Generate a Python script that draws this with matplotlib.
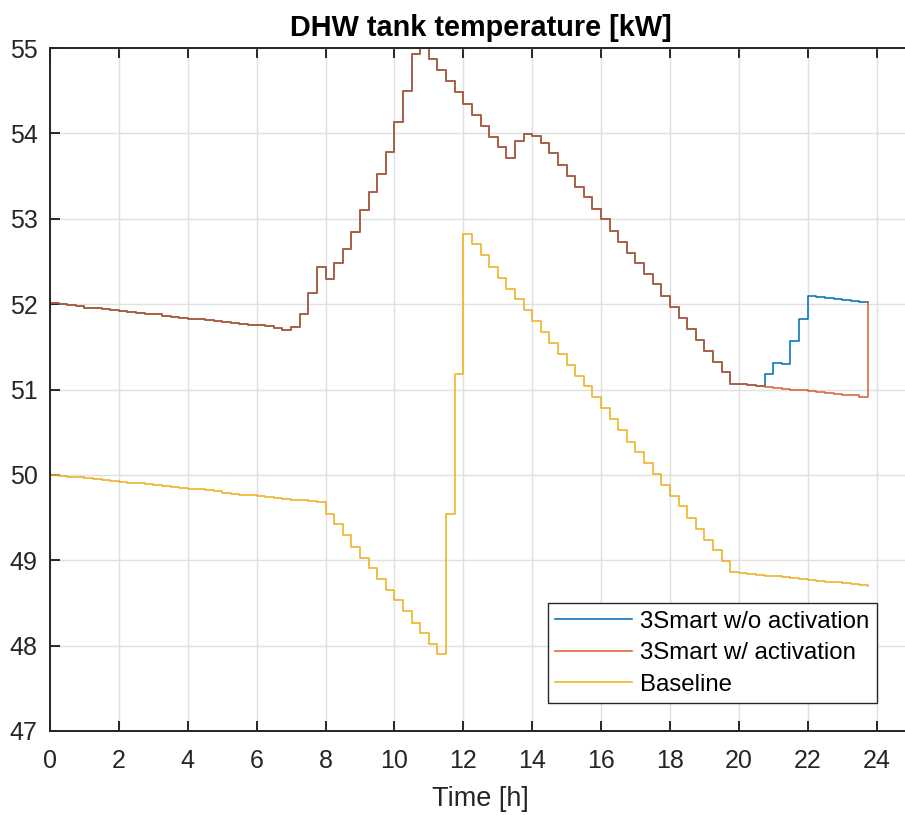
import matplotlib.pyplot as plt
import numpy as np

plt.rcParams['font.family'] = ['Liberation Sans', 'DejaVu Sans']

# time axis, 15 min steps
time_h = np.arange(0, 24, 0.25)

# 3Smart w/ activation
smart_act = [
    52.01, 52.00, 51.99, 51.98, 51.96, 51.95, 51.94, 51.93, 51.92, 51.91,
    51.90, 51.89, 51.88, 51.86, 51.85, 51.84, 51.83, 51.82, 51.81, 51.80,
    51.79, 51.78, 51.77, 51.76, 51.75, 51.74, 51.72, 51.70,
    51.73, 51.89, 52.13, 52.43, 52.29, 52.48, 52.64, 52.85,
    53.10, 53.31, 53.52, 53.78, 54.13, 54.50, 54.93, 55.00,
    54.87, 54.74, 54.61, 54.49, 54.34, 54.22, 54.09, 53.96,
    53.84, 53.71, 53.91, 53.99, 53.97, 53.89, 53.77, 53.63,
    53.50, 53.37, 53.25, 53.12, 53.00, 52.86, 52.73, 52.60,
    52.48, 52.35, 52.23, 52.09, 51.97, 51.84, 51.71, 51.58,
    51.45, 51.32, 51.20, 51.07, 51.06, 51.05, 51.04, 51.03,
    51.02, 51.01, 51.00, 50.99, 50.98, 50.97, 50.96, 50.95,
    50.94, 50.93, 50.91, 52.02,
]

# 3Smart w/o activation (same as above until 20:45)
smart_noact = smart_act[:83] + [
    51.18, 51.31, 51.30, 51.57, 51.83, 52.09, 52.08, 52.07,
    52.06, 52.05, 52.04, 52.03, 52.02,
]

baseline = [
    50.00, 49.99, 49.98, 49.97, 49.96, 49.95, 49.94, 49.93, 49.92, 49.91,
    49.90, 49.89, 49.88, 49.87, 49.86, 49.85, 49.84, 49.83, 49.82, 49.81,
    49.79, 49.78, 49.77, 49.76, 49.75, 49.74, 49.73, 49.72, 49.71, 49.70,
    49.69, 49.68,
    49.54, 49.42, 49.29, 49.16, 49.03, 48.91, 48.78, 48.65,
    48.53, 48.40, 48.27, 48.15, 48.02, 47.90, 49.54, 51.18,
    52.82, 52.70, 52.57, 52.44, 52.31, 52.18, 52.06, 51.93,
    51.80, 51.67, 51.54, 51.41, 51.29, 51.16, 51.04, 50.91,
    50.78, 50.65, 50.52, 50.39, 50.27, 50.14, 50.01, 49.88,
    49.75, 49.63, 49.50, 49.37, 49.24, 49.12, 48.99, 48.86,
    48.85, 48.84, 48.83, 48.82, 48.81, 48.80, 48.79, 48.78,
    48.77, 48.76, 48.75, 48.74, 48.73, 48.72, 48.71, 48.70,
]

fig = plt.figure(figsize=(9.05, 8.15), dpi=100)
ax = fig.add_axes([50/905, 84/815, 861/905, 683/815])

ax.step(time_h, smart_noact, where='post', color='#0072BD', lw=1.15, label='3Smart w/o activation')
ax.step(time_h, smart_act, where='post', color='#D95319', lw=1.15, alpha=0.9, label='3Smart w/ activation')
ax.step(time_h, baseline, where='post', color='#EDB120', lw=1.15, label='Baseline')

ax.set_xlim(0, 25)
ax.set_ylim(47, 55)
ax.set_xticks(np.arange(0, 25, 2))
ax.set_yticks(np.arange(47, 56, 1))
ax.grid(True, color='#e0e0e0', lw=1.0)
ax.set_axisbelow(True)

for s in ax.spines.values():
    s.set_color('#262626')
    s.set_linewidth(1.4)
ax.tick_params(direction='in', length=7, width=1.4, color='#262626',
               labelcolor='#262626', labelsize=18, top=True, right=False)
ax.tick_params(axis='x', pad=13)
ax.tick_params(axis='y', pad=9)

ax.set_title('DHW tank temperature [kW]', fontsize=20.8, fontweight='bold', pad=9)
ax.set_xlabel('Time [h]', fontsize=19.5, color='#262626', labelpad=9)

leg = ax.legend(loc='lower left', bbox_to_anchor=(0.578, 0.041), borderaxespad=0,
                fontsize=17.3, fancybox=False, edgecolor='#262626', framealpha=1,
                handlelength=3.2, handletextpad=0.35, labelspacing=0.4, borderpad=0.3)
leg.get_frame().set_linewidth(1.0)

plt.savefig('out.png', dpi=100)
